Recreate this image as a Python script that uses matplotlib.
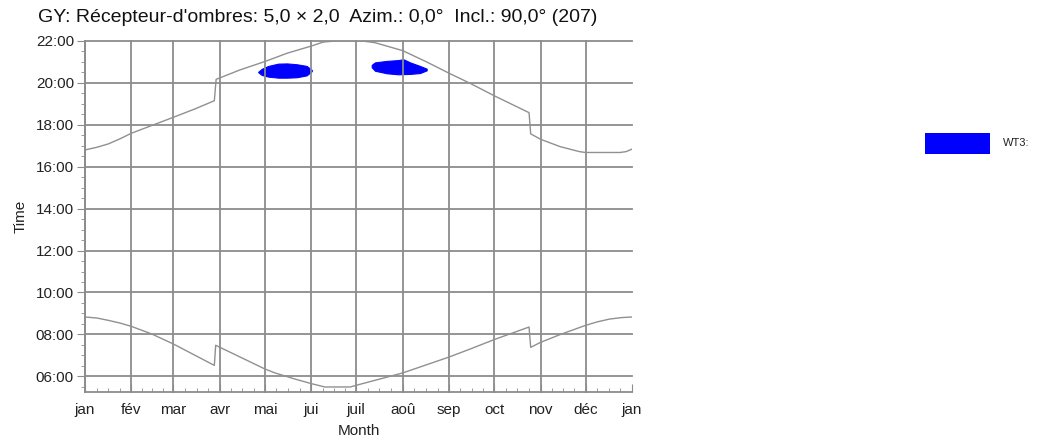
import numpy as np
import matplotlib
matplotlib.use('Agg')
import matplotlib.pyplot as plt
from matplotlib.patches import Rectangle
from matplotlib.ticker import FixedLocator, MultipleLocator, FuncFormatter

plt.rcParams['font.family'] = ['Liberation Sans', 'DejaVu Sans']

# month starts (day of year) and labels
month_days = [31, 28, 31, 30, 31, 30, 31, 31, 30, 31, 30, 31]
month_labels = ['jan', 'fév', 'mar', 'avr', 'mai', 'jui', 'juil', 'aoû',
                'sep', 'oct', 'nov', 'déc', 'jan']

# sunset (upper) curve, day of year -> hour
sunset_day = [0, 8, 15.6, 23, 31, 59, 73.4, 86.3, 87.5, 103.4, 120, 135, 151,
              159, 167, 185, 193.5, 212, 228, 243, 257, 273, 296.3, 297.4,
              304, 317, 330, 334, 357, 361, 365]
sunset_hour = [16.80, 16.93, 17.09, 17.32, 17.60, 18.36, 18.76, 19.15, 20.17,
               20.62, 21.02, 21.42, 21.76, 21.95, 22.0, 22.0, 21.92, 21.54,
               21.00, 20.46, 19.98, 19.39, 18.58, 17.57, 17.31, 16.96, 16.72,
               16.68, 16.68, 16.72, 16.84]

# sunrise (lower) curve
sunrise_day = [0, 8, 15.5, 23.4, 31, 44.5, 59, 86.3, 87.2, 120, 126.8, 140,
               151, 160, 177, 181, 196.8, 212, 243, 257, 273, 296.3, 297.4,
               304, 317, 334, 342, 350, 358, 365]
sunrise_hour = [8.83, 8.78, 8.67, 8.54, 8.38, 8.02, 7.54, 6.52, 7.48, 6.35,
                6.16, 5.87, 5.65, 5.49, 5.49, 5.57, 5.87, 6.16, 6.92, 7.30,
                7.75, 8.35, 7.38, 7.62, 7.99, 8.43, 8.60, 8.73, 8.80, 8.83]

# shadow periods of WT3
wt3_a_day = [115.6, 117.9, 122.3, 129.0, 134.8, 141.3, 147.9, 151.3]
wt3_a_lo = [20.51, 20.38, 20.30, 20.25, 20.25, 20.27, 20.36, 20.56]
wt3_a_hi = [20.53, 20.67, 20.81, 20.92, 20.93, 20.89, 20.81, 20.62]
wt3_b_day = [191.3, 193.5, 201.3, 209.1, 212.4, 216.9, 223.5, 228.0]
wt3_b_lo = [20.75, 20.58, 20.46, 20.41, 20.42, 20.43, 20.47, 20.60]
wt3_b_hi = [20.86, 20.98, 21.05, 21.09, 21.13, 20.98, 20.81, 20.68]

title = "GY: Récepteur-d'ombres: 5,0 × 2,0  Azim.: 0,0°  Incl.: 90,0° (207)"

W, H = 1037, 438
fig = plt.figure(figsize=(W / 100, H / 100), dpi=100)
ax = fig.add_axes([85 / W, 1 - 392 / H, (632 - 85) / W, (392 - 41) / H])

grid_c = '#8c8c8c'
ax.plot(sunset_day, sunset_hour, color='#909090', lw=1.0)
ax.plot(sunrise_day, sunrise_hour, color='#909090', lw=1.0)
ax.fill_between(wt3_a_day, wt3_a_lo, wt3_a_hi, color='#0000ff', lw=0.8, edgecolor='#0000ff')
ax.fill_between(wt3_b_day, wt3_b_lo, wt3_b_hi, color='#0000ff', lw=0.8, edgecolor='#0000ff')

starts = np.concatenate([[0], np.cumsum(month_days)])
quarters = []
for i in range(12):
    for q in (0.25, 0.5, 0.75):
        quarters.append(starts[i] + q * month_days[i])

ax.set_xlim(0, 365)
ax.set_ylim(5.25, 22)
ax.xaxis.set_major_locator(FixedLocator(starts))
ax.xaxis.set_minor_locator(FixedLocator(quarters))
ax.set_xticklabels(month_labels)
ax.yaxis.set_major_locator(MultipleLocator(2))
ax.yaxis.set_minor_locator(MultipleLocator(0.5))
ax.yaxis.set_major_formatter(FuncFormatter(lambda h, p: '%02d:00' % int(round(h))))

ax.tick_params(axis='y', which='major', direction='out', length=6, color=grid_c,
               labelsize=11, labelcolor='#222222', pad=2)
ax.tick_params(axis='y', which='minor', direction='out', length=3, color=grid_c)
ax.tick_params(axis='x', which='major', direction='in', length=6, color=grid_c,
               labelsize=11, labelcolor='#222222', pad=8)
ax.tick_params(axis='x', which='minor', direction='in', length=3, color=grid_c)

ax.grid(True, which='major', color=grid_c, lw=1.3)
for gl in ax.get_xgridlines() + ax.get_ygridlines():
    gl.set_clip_on(False)
ax.get_xgridlines()[-1].set_visible(False)

for s in ('top', 'right'):
    ax.spines[s].set_visible(False)
for s in ('left', 'bottom'):
    ax.spines[s].set_color(grid_c)
    ax.spines[s].set_linewidth(1.3)

ax.set_xlabel('Month', fontsize=11, color='#222222', labelpad=5)
ax.set_ylabel('Time', fontsize=11, color='#222222', labelpad=6)

fig.text(318 / W, 1 - 17 / H, title, ha='center', va='center', fontsize=14,
         color='#111111')

# legend
fig.add_artist(Rectangle((925 / W, 1 - 154 / H), 65 / W, 21 / H,
                         transform=fig.transFigure, facecolor='#0000ff',
                         edgecolor='none'))
fig.text(1003 / W, 1 - 143 / H, 'WT3:', ha='left', va='center', fontsize=8,
         color='#222222')

fig.savefig('out.png', dpi=100)
